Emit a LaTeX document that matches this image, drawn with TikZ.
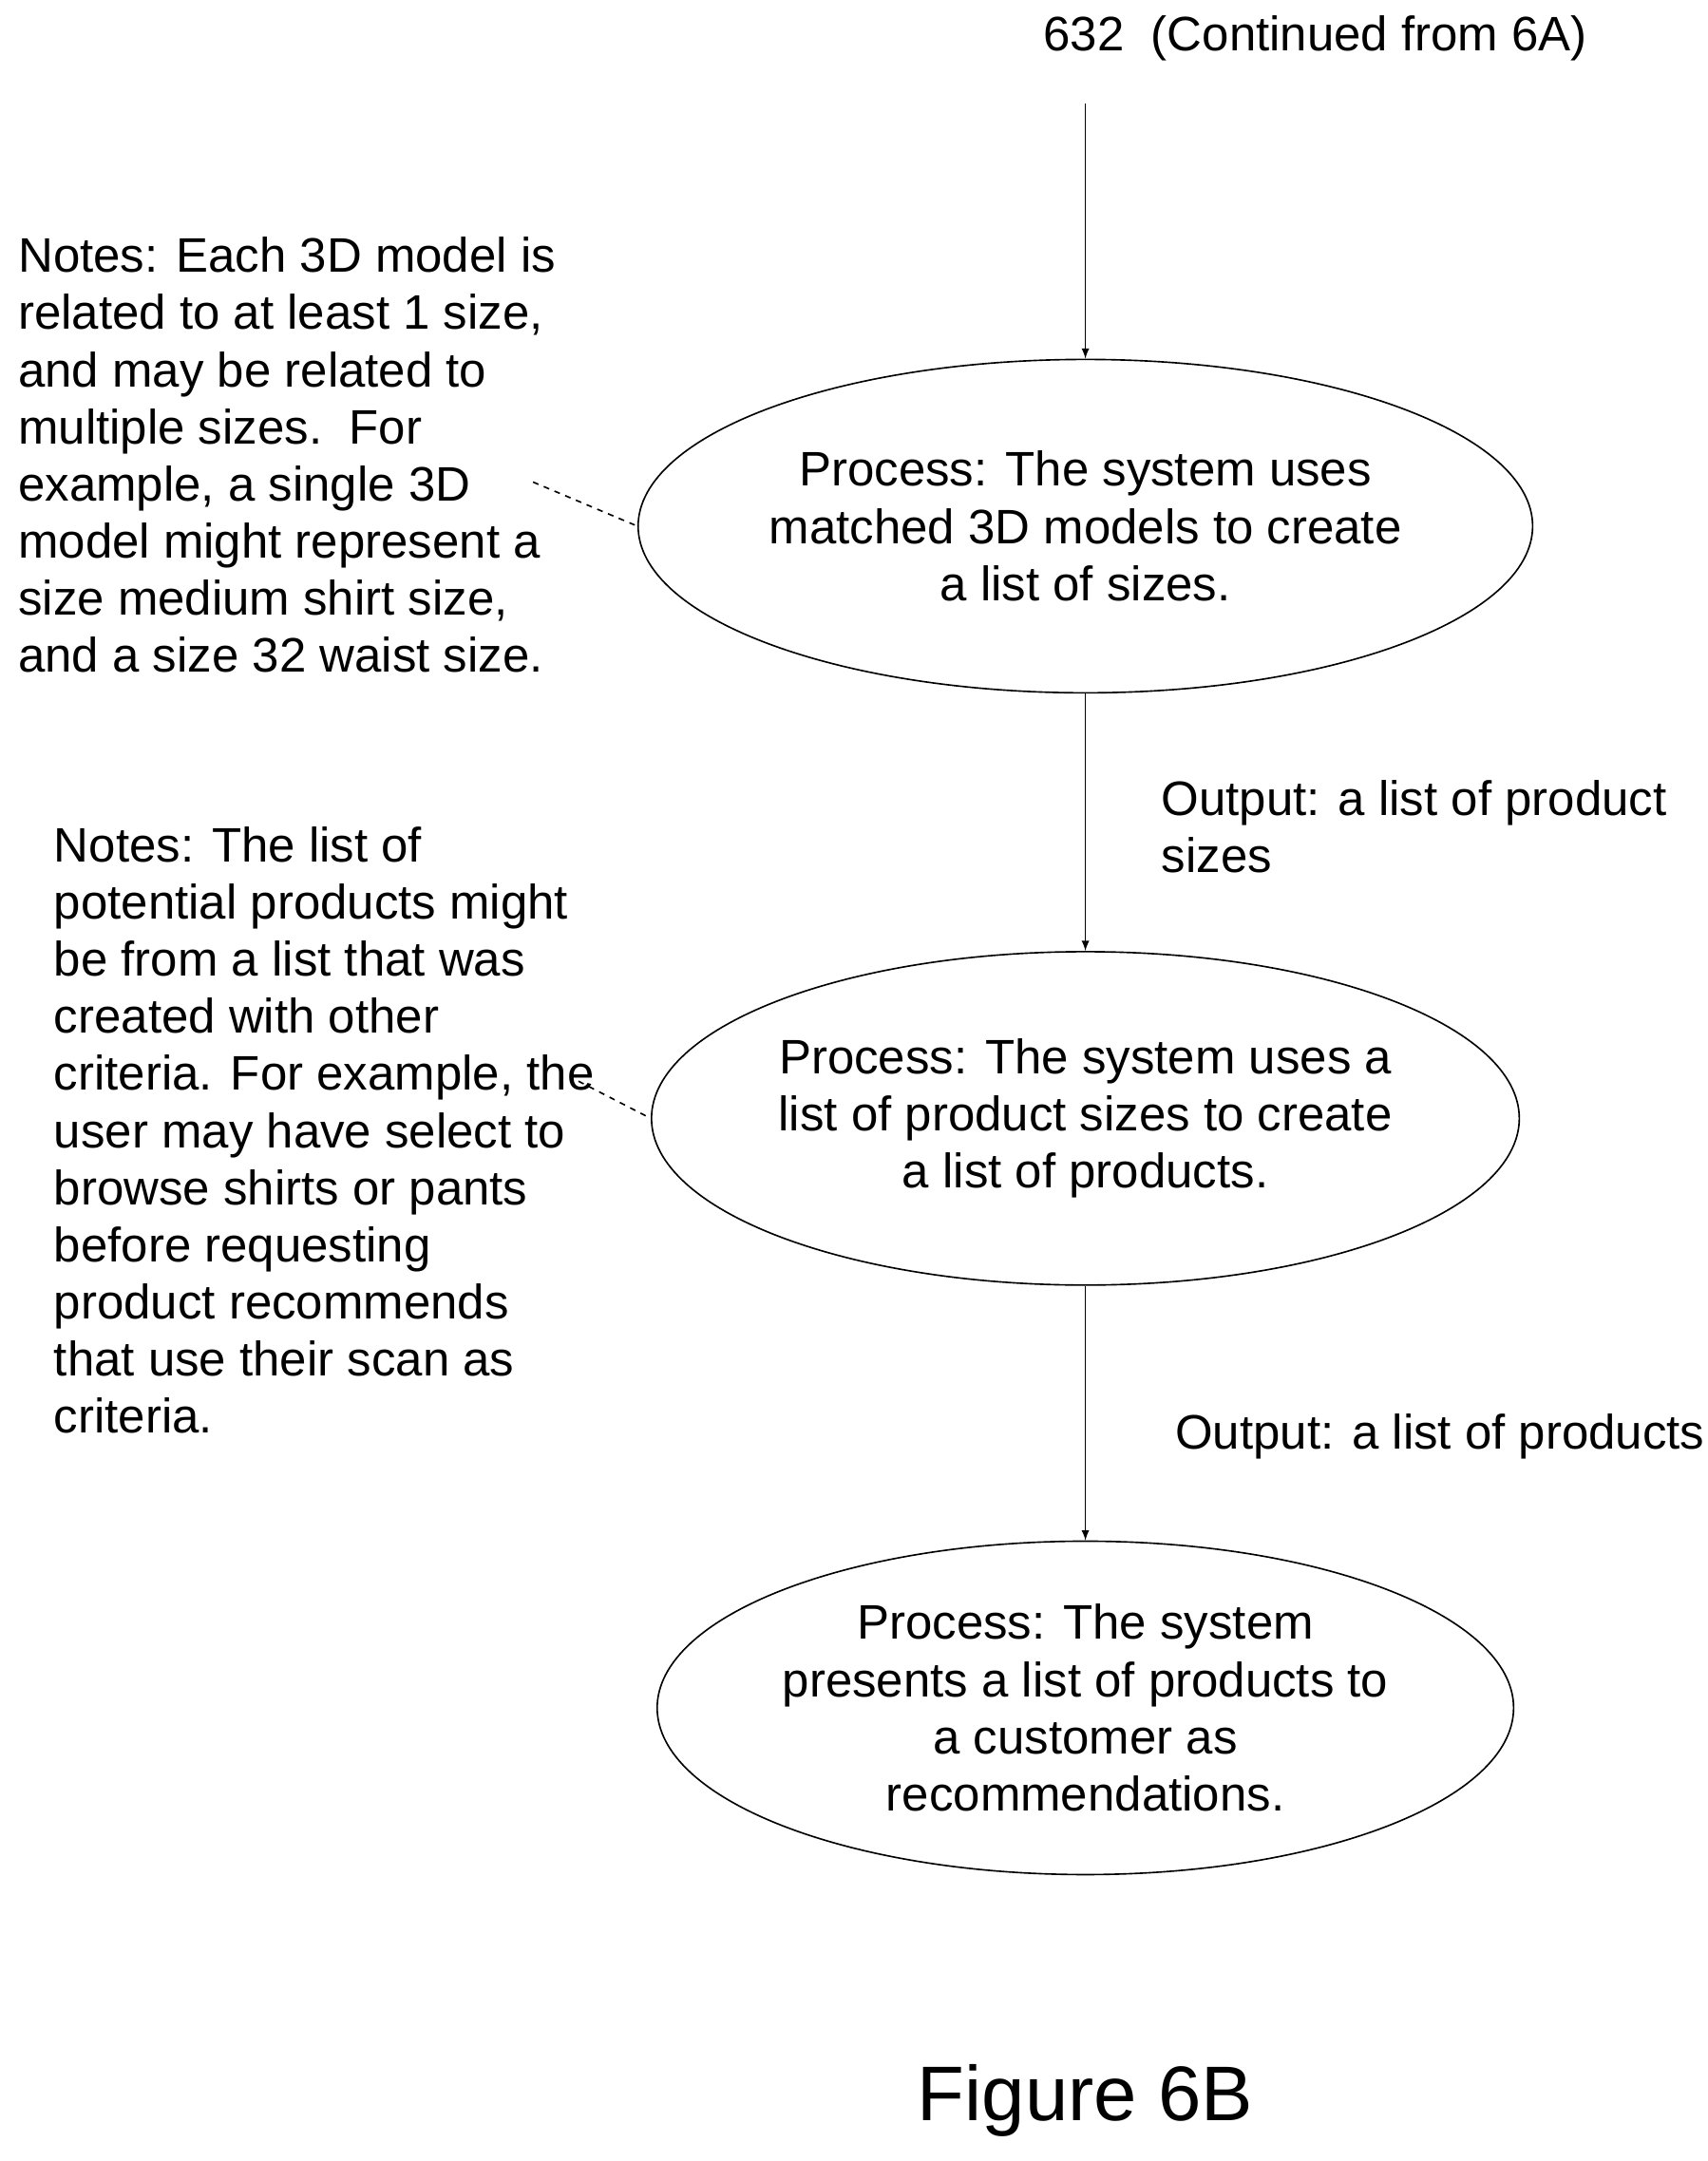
\documentclass[tikz,border=0pt]{standalone}
\usepackage{fontspec}
\setmainfont{Liberation Sans}
\usetikzlibrary{shapes.geometric}
\begin{document}
\begin{tikzpicture}[
    x=0.025cm, y=-0.025cm,
    process/.style={
      ellipse,
      draw=black,
      thick,
      align=center,
      minimum width=13.6cm,
      minimum height=6.05cm,
      inner sep=0pt,
      font=\fontsize{25}{29.5}\selectfont
    },
    note/.style={
      align=left,
      anchor=north west,
      inner sep=0pt,
      font=\fontsize{25}{29.5}\selectfont
    },
    flow/.style={->,thick,>=latex}
]
\useasboundingbox (0,0) rectangle (1240,1569);

\node[font=\fontsize{25}{29.5}\selectfont] (start) at (955,28) {632\ \ (Continued from 6A)};
\coordinate (top) at (788,75);

\node[process] (sizes) at (788,382) {Process: The system uses\\matched 3D models to create\\a list of sizes.};
\node[process] (products) at (788,812) {Process: The system uses a\\list of product sizes to create\\a list of products.};
\node[process] (present) at (788,1240) {Process: The system\\presents a list of products to\\a customer as\\recommendations.};

\draw[flow] (top) -- (sizes);
\draw[flow] (sizes) -- (products);
\draw[flow] (products) -- (present);

\node[note] (out1) at (843,566) {Output: a list of product\\sizes};
\node[note] (out2) at (853,1026) {Output: a list of products};

% notes on the left
\node[note] (note1) at (13,172) {Notes: Each 3D model is\\related to at least 1 size,\\and may be related to\\multiple sizes.\ \ For\\example, a single 3D\\model might represent a\\size medium shirt size,\\and a size 32 waist size.};
\node[note] (note2) at (39,600) {Notes: The list of\\potential products might\\be from a list that was\\created with other\\criteria. For example, the\\user may have select to\\browse shirts or pants\\before requesting\\product recommends\\that use their scan as\\criteria.};

\coordinate (n1) at (387,350);
\coordinate (n2) at (420,785);
\draw[dashed,thick] (n1) -- (sizes.west);
\draw[dashed,thick] (n2) -- (products.west);

\node[font=\fontsize{40}{48}\selectfont] (fig) at (788,1525) {Figure 6B};
\end{tikzpicture}
\end{document}
